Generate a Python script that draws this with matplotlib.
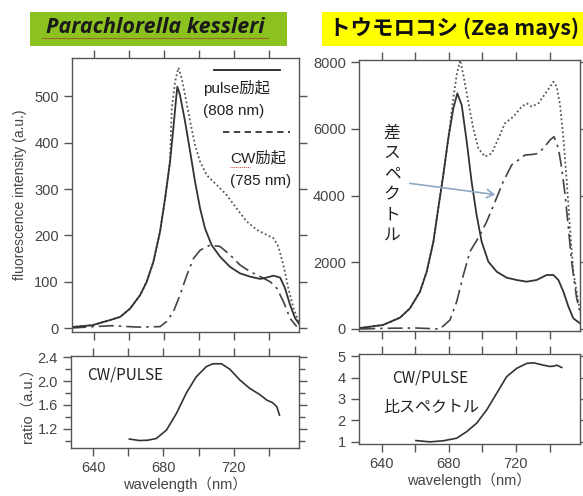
import matplotlib
matplotlib.use("Agg")
import matplotlib.pyplot as plt
from matplotlib.lines import Line2D
from matplotlib.patches import Rectangle, FancyArrowPatch

plt.rcParams['font.family'] = ['Liberation Sans', 'Noto Sans CJK JP', 'DejaVu Sans']

W, H = 583, 496

# Parachlorella kessleri - fluorescence spectra
pk_wl_pulse = [627, 639, 649, 654.9, 660.6, 666.3, 670.1, 673.9, 677.7, 680.6, 683.4, 685.3,
               686.9, 687.6, 689.1, 692, 694.9, 697.7, 700.6, 703.4, 707.2, 712, 717.7,
               723.4, 729.1, 734.9, 738.7, 742.5, 746.3, 749.1, 752, 754.9, 757.7]
pk_pulse = [2, 6, 17, 24, 42, 71, 100, 143, 208, 280, 359, 431,
            496, 521, 503, 446, 381, 316, 258, 215, 179, 154, 132,
            118, 111, 106, 109, 113, 109, 86, 50, 21, 6]
pk_wl_cw = [627, 639, 649, 654.9, 660.6, 666.3, 670.1, 673.9, 677.7, 680.6, 683.4, 684.4,
            686.3, 688.2, 690.1, 692, 694.9, 697.7, 700.6, 704.4, 710.1, 715.8, 721.5,
            727.2, 733, 738.7, 742.5, 745.3, 748.2, 751, 754, 757.7]
pk_cw = [2, 6, 17, 24, 42, 71, 100, 143, 208, 280, 359, 474,
         532, 562, 539, 503, 446, 395, 359, 330, 309, 287, 258,
         230, 212, 201, 194, 176, 136, 86, 42, 6]
pk_wl_diff = [627, 640, 650, 665, 677.7, 681.5, 685.3, 689.1, 693, 696.8, 700.6, 706.3,
              712, 717.7, 723.4, 729.1, 734.9, 740.6, 744.4, 748.2, 752, 755.8]
pk_diff = [0, 3, 5, 2, 3, 14, 35, 71, 114, 150, 168, 179,
           176, 158, 136, 122, 111, 100, 86, 57, 21, 3]

# Zea mays - fluorescence spectra
zm_wl_pulse = [627, 640.6, 650.8, 656.7, 662.7, 666.7, 670.7, 673.6, 676.6, 679.6, 682.6,
               685, 687.6, 690.6, 693.5, 696.5, 699.5, 703.5, 708.5, 714.4, 720.4, 726.4,
               732.3, 738.3, 742.3, 745.3, 748.3, 751.3, 754.2, 758.2]
zm_pulse = [30, 120, 340, 619, 1118, 1718, 2616, 3615, 4614, 5712, 6611,
            7060, 6711, 5612, 4414, 3415, 2616, 2017, 1717, 1538, 1468, 1418,
            1468, 1618, 1618, 1468, 1118, 669, 319, 170]
zm_wl_cw = [627, 640.6, 650.8, 656.7, 662.7, 666.7, 670.7, 673.6, 676.6, 679.6, 682.6,
            684.6, 686.6, 688.6, 691.5, 694.5, 697.5, 701.5, 705.5, 709.5, 713.4, 718.4,
            723.4, 726.4, 729.4, 733.3, 738.3, 742.3, 744.3, 746.3, 748.3, 750.3, 752.2,
            754.2, 757.2, 759.2]
zm_cw = [30, 120, 340, 619, 1118, 1718, 2616, 3615, 4614, 5712, 6911,
         7610, 8059, 7610, 6811, 6012, 5413, 5163, 5263, 5712, 6162, 6361,
         6661, 6761, 6661, 6761, 7110, 7410, 7260, 6711, 5712, 4414, 3016,
         1718, 819, 319]
zm_wl_diff = [627, 640, 660, 674.6, 680.6, 684.6, 688.6, 692.5, 698.5, 702.5, 707.5, 712.4,
              717.4, 721.4, 725.4, 730.4, 733.3, 736.3, 740.3, 742.7, 745.3, 747.3, 749.3,
              751.3, 753.2, 756.2, 759.2]
zm_diff = [0, 20, 30, 0, 270, 819, 1618, 2317, 2816, 3216, 3815, 4414,
           4913, 5063, 5213, 5233, 5263, 5413, 5663, 5762, 5413, 4814, 4015,
           3016, 2017, 919, 319]

# CW/PULSE ratio spectra
pk_wl_ratio = [660.6, 666.3, 671, 676, 681.7, 687.4, 693, 698.6, 704.3, 708, 713, 717.7,
               723.4, 729, 735, 738.9, 742, 744.5, 746]
pk_ratio = [1.03, 1.005, 1.01, 1.04, 1.18, 1.46, 1.8, 2.07, 2.24, 2.29, 2.29, 2.2,
            2.02, 1.88, 1.77, 1.68, 1.64, 1.57, 1.43]
zm_wl_ratio = [660.3, 668.7, 676.6, 684.6, 690.6, 696.5, 702.5, 708.5, 714.4, 720.4, 726.4,
               730.4, 736.3, 740, 742.3, 744.3, 747.3]
zm_ratio = [1.06, 1.0, 1.05, 1.17, 1.48, 1.87, 2.49, 3.27, 4.04, 4.43, 4.66,
            4.69, 4.58, 4.52, 4.53, 4.58, 4.47]

x_ticks = [640, 660, 680, 700, 720, 740]
x_labels = ['640', '', '680', '', '720', '']

line_col = '#333333'
frame_col = '#555555'


def fx(px):
    return px / W


def fy(py):
    return 1 - py / H


def make_axes(fig, left, top, right, bottom):
    ax = fig.add_axes([fx(left), fy(bottom), (right - left) / W, (bottom - top) / H])
    for s in ax.spines.values():
        s.set_color(frame_col)
        s.set_linewidth(1.0)
    ax.tick_params(which='both', direction='out', top=True, right=True, colors=frame_col,
                   labelcolor='#444444', labelsize=10.5, width=1.0)
    ax.tick_params(which='major', length=6)
    ax.tick_params(which='minor', length=4)
    ax.set_xticks(x_ticks)
    return ax


def draw_spectra(ax, wl_p, p, wl_c, c, wl_d, d):
    ax.plot(wl_c, c, color='#555555', lw=1.3, linestyle=(0, (1, 1.4)))
    ax.plot(wl_d, d, color='#444444', lw=1.2, linestyle=(0, (9, 3, 1.5, 3)))
    ax.plot(wl_p, p, color=line_col, lw=1.3)


fig = plt.figure(figsize=(W / 100, H / 100), dpi=100)

# title boxes
fig.add_artist(Rectangle((fx(30), fy(46)), (287 - 30) / W, 34 / H, transform=fig.transFigure,
                         facecolor='#8cc21f', edgecolor='none'))
fig.add_artist(Rectangle((fx(322), fy(46)), (590 - 322) / W, 34 / H, transform=fig.transFigure,
                         facecolor='#ffff00', edgecolor='none'))
fig.text(fx(155), fy(33), 'Parachlorella kessleri', family='Open Sans', fontweight='bold',
         style='italic', fontsize=15.5, color='#1a1a1a', ha='center', va='baseline')
fig.add_artist(Line2D([fx(42), fx(268)], [fy(38), fy(38)], transform=fig.transFigure,
                      color='#9a6a2a', lw=0.8))
fig.text(fx(454), fy(28), 'トウモロコシ (Zea mays)', family=['Noto Sans CJK JP'],
         fontweight='bold', fontsize=15.5, color='#111111', ha='center', va='center')

# top left: Parachlorella fluorescence
ax1 = make_axes(fig, 72, 58, 299, 332)
draw_spectra(ax1, pk_wl_pulse, pk_pulse, pk_wl_cw, pk_cw, pk_wl_diff, pk_diff)
ax1.set_xlim(627.4, 757.1)
ax1.set_ylim(-8.6, 583)
ax1.set_yticks([0, 100, 200, 300, 400, 500])
ax1.set_xticklabels([])
ax1.set_ylabel('fluorescence intensity (a.u.)', fontsize=10, color='#444444', labelpad=5)

# top right: Zea mays fluorescence
ax2 = make_axes(fig, 359, 60, 580, 331)
draw_spectra(ax2, zm_wl_pulse, zm_pulse, zm_wl_cw, zm_cw, zm_wl_diff, zm_diff)
ax2.set_xlim(626.3, 758.2)
ax2.set_ylim(-60, 8060)
ax2.set_yticks([0, 2000, 4000, 6000, 8000])
ax2.set_xticklabels([])

# bottom left: ratio
ax3 = make_axes(fig, 71, 356, 299, 448)
ax3.plot(pk_wl_ratio, pk_ratio, color=line_col, lw=1.2)
ax3.set_xlim(627.4, 757.1)
ax3.set_ylim(0.88, 2.42)
ax3.set_yticks([1.2, 1.6, 2.0, 2.4])
ax3.set_yticks([1.0, 1.4, 1.8, 2.2], minor=True)
ax3.set_xticklabels(x_labels)
ax3.set_ylabel('ratio（a.u.）', fontsize=10.5, color='#444444', labelpad=2)
ax3.set_xlabel('wavelength（nm）', fontsize=10.5, color='#444444', labelpad=1)

# bottom right: ratio
ax4 = make_axes(fig, 359, 354, 580, 444)
ax4.plot(zm_wl_ratio, zm_ratio, color=line_col, lw=1.2)
ax4.set_xlim(626.3, 758.2)
ax4.set_ylim(0.9, 5.1)
ax4.set_yticks([1, 2, 3, 4, 5])
ax4.set_xticklabels(x_labels)
ax4.set_xlabel('wavelength（nm）', fontsize=10.5, color='#444444', labelpad=1)

# legend-like annotations in top left panel
fig.add_artist(Line2D([fx(214), fx(280)], [fy(70), fy(70)], transform=fig.transFigure,
                      color='#222222', lw=1.3))
fig.add_artist(Line2D([fx(223), fx(290)], [fy(132), fy(132)], transform=fig.transFigure,
                      color='#333333', lw=1.3, linestyle=(0, (3.5, 2.5))))
ann = dict(fontsize=11, color='#222222', ha='left', va='center')
fig.text(fx(203), fy(88), 'pulse励起', **ann)
fig.text(fx(203), fy(111), '(808 nm)', **ann)
fig.text(fx(230), fy(158), 'CW励起', **ann)
fig.text(fx(230), fy(181), '(785 nm)', **ann)
fig.add_artist(Line2D([fx(230), fx(250)], [fy(167), fy(167)], transform=fig.transFigure,
                      color='#d04040', lw=0.7, linestyle=(0, (1, 1))))

# vertical label and arrow in top right panel
for i, ch in enumerate('差スペクトル'):
    fig.text(fx(392), fy(133 + i * 20.5), ch, fontsize=12, color='#222222',
             ha='center', va='center')
fig.add_artist(FancyArrowPatch(
    (fx(407), fy(183)), (fx(498), fy(195)), transform=fig.transFigure,
    arrowstyle='->,head_length=5,head_width=3', color='#8fa9c2', lw=1.2))

# ratio panel texts
fig.text(fx(87), fy(375), 'CW/PULSE', fontsize=11, color='#222222', ha='left', va='center',
         family=['Noto Sans CJK JP'])
fig.text(fx(392), fy(378), 'CW/PULSE', fontsize=11, color='#222222', ha='left', va='center',
         family=['Noto Sans CJK JP'])
fig.text(fx(383), fy(407), '比スペクトル', fontsize=11.5, color='#222222', ha='left', va='center',
         family=['Noto Sans CJK JP'])

fig.savefig('out.png', dpi=100)
